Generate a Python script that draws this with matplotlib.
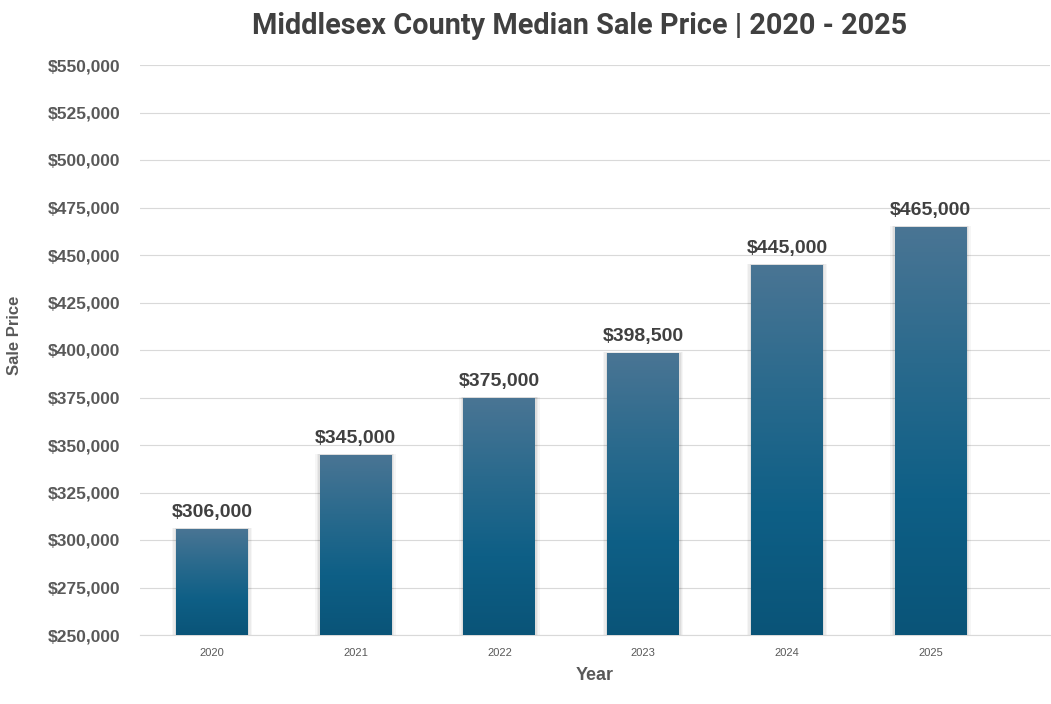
import matplotlib
matplotlib.use("Agg")
import matplotlib.pyplot as plt
import numpy as np
from matplotlib.colors import LinearSegmentedColormap
from matplotlib.patches import Rectangle
from matplotlib.ticker import FuncFormatter, MultipleLocator

years = ["2020", "2021", "2022", "2023", "2024", "2025"]
prices = [306000, 345000, 375000, 398500, 445000, 465000]
labels = ["$306,000", "$345,000", "$375,000", "$398,500", "$445,000", "$465,000"]

fig = plt.figure(figsize=(10.51, 7.04), dpi=100)
ax = fig.add_axes([140/1051, 1 - 635/704, (1050-140)/1051, (635-65)/704])

ymin, ymax = 250000, 550000
ax.set_ylim(ymin, ymax)
ax.set_xlim(-0.5, 5.83)

cmap = LinearSegmentedColormap.from_list("g", ["#0a5478", "#0e5f86", "#2a6a8d", "#4a7594"])
grad = np.linspace(0, 1, 256).reshape(-1, 1)

bars = ax.bar(range(len(years)), prices, width=0.5, bottom=0, color="none", zorder=3)
for i, b in enumerate(bars):
    x0 = b.get_x(); w = b.get_width(); h = prices[i]
    # soft shadow on the sides
    for k, a in [(0.030, 0.035), (0.020, 0.045), (0.010, 0.06)]:
        ax.add_patch(Rectangle((x0 - k, ymin), w + 2*k, h - ymin + k*15000,
                               facecolor="#000000", alpha=a, edgecolor="none", zorder=2))
    im = ax.imshow(grad, extent=[x0, x0 + w, ymin, h], aspect="auto", cmap=cmap,
                   origin="lower", zorder=3)
    im.set_clip_path(b)
    ax.text(i, h + 4000, labels[i], ha="center", va="bottom", fontsize=14,
            fontweight="bold", color="#404040", family="Liberation Sans", zorder=4)

ax.yaxis.set_major_locator(MultipleLocator(25000))
ax.yaxis.set_major_formatter(FuncFormatter(lambda v, p: f"${v:,.0f}"))
ax.grid(axis="y", color="#d9d9d9", linewidth=0.8, zorder=0)
ax.set_axisbelow(True)
for s in ["top", "right", "left"]:
    ax.spines[s].set_visible(False)
ax.spines["bottom"].set_color("#d9d9d9")
ax.spines["bottom"].set_linewidth(0.8)
ax.tick_params(axis="both", length=0)
ax.set_xticks(range(len(years)))
ax.set_xticklabels(years, fontsize=8, color="#595959", family="Liberation Sans")
for t in ax.get_yticklabels():
    t.set_fontsize(12.5); t.set_fontweight("bold"); t.set_color("#595959"); t.set_family("Liberation Sans")
ax.tick_params(axis="y", pad=14)
ax.tick_params(axis="x", pad=9)

ax.set_xlabel("Year", fontsize=13, fontweight="bold", color="#595959", family="Liberation Sans", labelpad=7)
fig.text(15/1051, 1 - 335/704, "Sale Price", rotation=90, ha="center", va="center",
         fontsize=12, fontweight="bold", color="#595959", family="Liberation Sans")
fig.text(580/1051, 1 - 26/704, "Middlesex County Median Sale Price | 2020 - 2025", ha="center",
         va="center", fontsize=20.8, fontweight="bold", color="#404040", family="Roboto")

fig.savefig("out.png", dpi=100, facecolor="white")
